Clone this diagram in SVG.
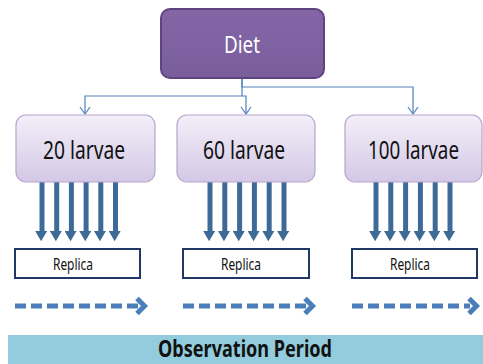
<svg xmlns="http://www.w3.org/2000/svg" width="483" height="364" viewBox="0 0 483 364">
<style>
.lb{fill:url(#lg);stroke:#B6A5CF;stroke-width:1.2}
.lt{font-family:"Noto Sans",sans-serif;font-size:25px;fill:#111}
.rep{fill:#fff;stroke:#1F3864;stroke-width:2}
.rt{font-family:"Noto Sans",sans-serif;font-size:16px;fill:#111}
.thin{fill:none;stroke:#4F81BD;stroke-width:1.2}
.thick{stroke:#3E6A98;stroke-width:5;marker-end:url(#tri)}
.dash{fill:none;stroke:#4A7EBB;stroke-width:5;stroke-dasharray:11 5}
.chev{fill:none;stroke:#4A7EBB;stroke-width:5}
</style>
<defs>
<linearGradient id="lg" x1="0" y1="0" x2="0" y2="1">
<stop offset="0" stop-color="#F3EFF8"/>
<stop offset="1" stop-color="#D4C8E6"/>
</linearGradient>
<linearGradient id="pg" x1="0" y1="0" x2="0" y2="1">
<stop offset="0" stop-color="#8466A6"/>
<stop offset="1" stop-color="#7A5E9C"/>
</linearGradient>
<marker id="tri" markerUnits="userSpaceOnUse" markerWidth="14" markerHeight="12" refX="0" refY="6" orient="auto" viewBox="0 0 12 14">
<path d="M0,0 L12,7 L0,14 Z" fill="#3E6A98"/>
</marker>
<marker id="vee" markerUnits="userSpaceOnUse" markerWidth="10" markerHeight="12" refX="7" refY="6" orient="auto" viewBox="0 0 8 12">
<path d="M0,1 L7,6 L0,11" fill="none" stroke="#4F81BD" stroke-width="1.2"/>
</marker>
</defs>
<rect x="8" y="335" width="475" height="29" fill="#93CDDD"/>
<text transform="translate(158,357) scale(0.785,1)" x="0" y="0" textLength="221.7" lengthAdjust="spacingAndGlyphs" font-family="Noto Sans, sans-serif" font-size="23" font-weight="bold" fill="#111">Observation Period</text>
<g id="connectors">
<path class="thin" d="M242,78 V87 H413 V114" marker-end="url(#vee)"/>
<path class="thin" d="M242,78 V96 H85 V114" marker-end="url(#vee)"/>
<path class="thin" d="M242,96 H246 V114" marker-end="url(#vee)"/>
<g>
<line class="thick" x1="42" y1="182" x2="42" y2="231"/>
<line class="thick" x1="56.7" y1="182" x2="56.7" y2="231"/>
<line class="thick" x1="71.4" y1="182" x2="71.4" y2="231"/>
<line class="thick" x1="86.1" y1="182" x2="86.1" y2="231"/>
<line class="thick" x1="100.8" y1="182" x2="100.8" y2="231"/>
<line class="thick" x1="115.5" y1="182" x2="115.5" y2="231"/>
<line class="thick" x1="210" y1="182" x2="210" y2="231"/>
<line class="thick" x1="224.8" y1="182" x2="224.8" y2="231"/>
<line class="thick" x1="239.6" y1="182" x2="239.6" y2="231"/>
<line class="thick" x1="254.4" y1="182" x2="254.4" y2="231"/>
<line class="thick" x1="269.2" y1="182" x2="269.2" y2="231"/>
<line class="thick" x1="284" y1="182" x2="284" y2="231"/>
<line class="thick" x1="376" y1="182" x2="376" y2="231"/>
<line class="thick" x1="390.8" y1="182" x2="390.8" y2="231"/>
<line class="thick" x1="405.6" y1="182" x2="405.6" y2="231"/>
<line class="thick" x1="420.4" y1="182" x2="420.4" y2="231"/>
<line class="thick" x1="435.2" y1="182" x2="435.2" y2="231"/>
<line class="thick" x1="450" y1="182" x2="450" y2="231"/>
</g>
<g>
<line class="dash" x1="15" y1="306" x2="139" y2="306"/>
<polyline class="chev" points="137,298.5 144.5,306 137,313.5"/>
<line class="dash" x1="183" y1="306" x2="307" y2="306"/>
<polyline class="chev" points="305,298.5 312.5,306 305,313.5"/>
<line class="dash" x1="352" y1="306" x2="470" y2="306"/>
<polyline class="chev" points="469,298.5 476.5,306 469,313.5"/>
</g>
</g>
<g id="diet">
<rect x="161" y="9" width="163" height="69" rx="9" fill="url(#pg)" stroke="#5E4580" stroke-width="2"/>
<text transform="translate(224,53) scale(0.79,1)" x="0" y="0" textLength="45.6" lengthAdjust="spacingAndGlyphs" font-family="Noto Sans, sans-serif" font-size="24" fill="#fff">Diet</text>
</g>
<g id="larvae20">
<rect class="lb" x="16" y="115" width="139" height="67" rx="10"/>
<text class="lt" transform="translate(43,159) scale(0.775,1)" x="0" y="0" textLength="105.8" lengthAdjust="spacingAndGlyphs">20 larvae</text>
</g>
<g id="larvae60">
<rect class="lb" x="177" y="115" width="138" height="67" rx="10"/>
<text class="lt" transform="translate(203,159) scale(0.775,1)" x="0" y="0" textLength="105.8" lengthAdjust="spacingAndGlyphs">60 larvae</text>
</g>
<g id="larvae100">
<rect class="lb" x="345" y="115" width="137" height="67" rx="10"/>
<text class="lt" transform="translate(368,159) scale(0.758,1)" x="0" y="0" textLength="120.1" lengthAdjust="spacingAndGlyphs">100 larvae</text>
</g>
<g id="replica1">
<rect class="rep" x="15" y="249" width="125" height="29"/>
<text class="rt" transform="translate(53,270) scale(0.75,1)" x="0" y="0" textLength="53.3" lengthAdjust="spacingAndGlyphs">Replica</text>
</g>
<g id="replica2">
<rect class="rep" x="183" y="249" width="126" height="29"/>
<text class="rt" transform="translate(221,270) scale(0.75,1)" x="0" y="0" textLength="53.3" lengthAdjust="spacingAndGlyphs">Replica</text>
</g>
<g id="replica3">
<rect class="rep" x="352" y="249" width="125" height="29"/>
<text class="rt" transform="translate(390,270) scale(0.75,1)" x="0" y="0" textLength="53.3" lengthAdjust="spacingAndGlyphs">Replica</text>
</g>
</svg>
